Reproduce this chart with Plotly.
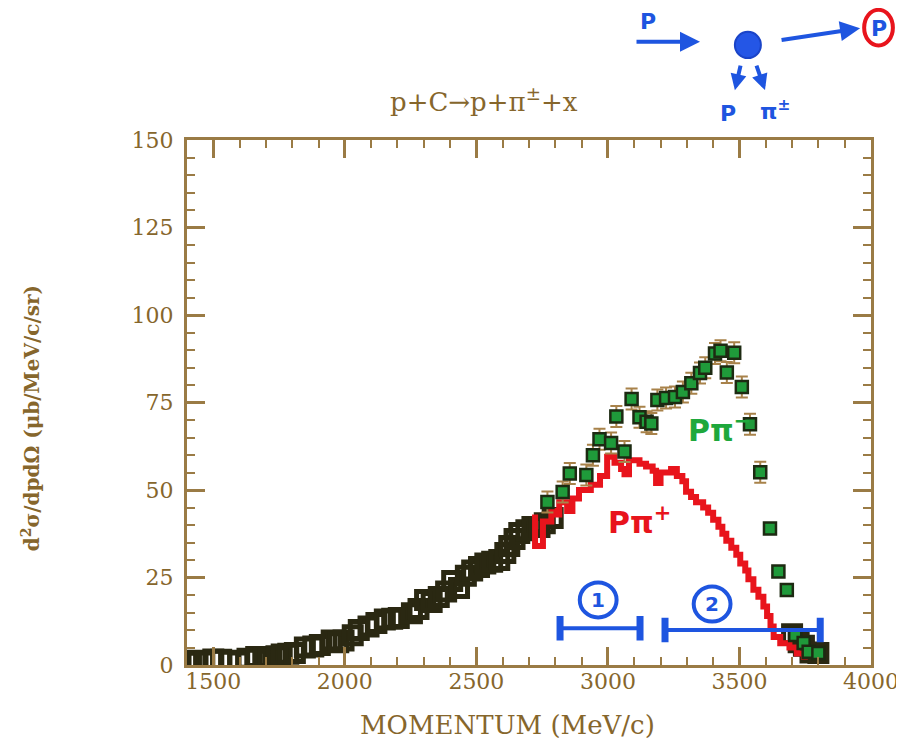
import plotly.graph_objects as go

# ---------------- data ----------------
# combined (black open boxes) data, momentum MeV/c vs cross section
black_x = [1415, 1440, 1465, 1500, 1530, 1560, 1595, 1630, 1663, 1690, 1710, 1740, 1760, 1785,
           1810, 1848, 1880, 1905, 1950, 1975, 1995, 2030, 2053, 2090, 2120, 2152, 2180, 2205,
           2255, 2280, 2305, 2330, 2357, 2385, 2408, 2434, 2460, 2484, 2510, 2534, 2560, 2587,
           2610, 2625, 2645, 2663, 2690, 2713, 2740, 2760, 2790, 3700, 3725, 3745, 3770, 3800]
black_y = [0.9, 1.2, 1.0, 1.6, 1.5, 1.2, 1.0, 1.8, 2.3, 2.0, 1.5, 2.5, 3.0, 3.2,
           3.4, 5.0, 5.3, 5.7, 7.0, 6.5, 7.0, 8.5, 10.0, 11.0, 12.0, 13.0, 13.2, 13.4,
           14.8, 16.0, 18.6, 18.0, 19.4, 21.0, 24.0, 22.0, 25.5, 27.0, 28.0, 29.0, 29.5, 30.0,
           32.0, 34.0, 36.0, 37.7, 38.5, 39.4, 39.4, 40.5, 42.0, 8.8, 6.5, 5.5, 3.6, 3.4]

# p pi- (green points with error bars)
pim_x = [2770, 2828, 2855, 2918, 2943, 2968, 3012, 3032, 3063, 3090, 3120, 3147, 3165,
         3188, 3221, 3255, 3285, 3317, 3350, 3370, 3407, 3428, 3452, 3480, 3509, 3540,
         3579, 3616, 3648, 3680, 3712, 3744, 3763, 3800]
pim_y = [46.6, 49.4, 54.7, 54.3, 59.9, 64.5, 63.4, 71.0, 61.0, 76.0, 70.8, 69.5, 69.0,
         75.7, 76.3, 76.6, 78.0, 80.5, 83.4, 84.9, 89.0, 89.8, 83.6, 89.2, 79.4, 68.8,
         55.1, 39.0, 26.7, 21.4, 8.6, 6.3, 3.8, 3.4]
pim_err = [3.0, 3.0, 3.0, 3.0, 3.0, 3.0, 3.0, 3.0, 3.0, 3.0, 3.0, 3.0, 3.0,
           3.0, 3.0, 3.0, 3.0, 3.0, 3.0, 3.0, 3.0, 3.0, 3.0, 3.0, 3.0, 3.0,
           3.0, 0, 0, 0, 0, 0, 0, 0]

# p pi+ (red histogram, step edges and levels)
pip_x = [2723, 2723, 2753, 2785, 2800, 2815, 2845, 2865, 2890, 2935, 2970, 2997, 3025,
         3050, 3063, 3080, 3120, 3145, 3170, 3183, 3200, 3240, 3262, 3283, 3297, 3316,
         3335, 3362, 3381, 3400, 3420, 3435, 3450, 3469, 3488, 3503, 3522, 3534, 3553,
         3572, 3591, 3605, 3618, 3630, 3655, 3690, 3718, 3745, 3760]
pip_y = [43.0, 34.0, 41.0, 44.0, 43.0, 46.5, 44.0, 47.6, 50.0, 51.5, 54.0, 59.5, 57.8,
         56.0, 54.5, 58.5, 57.5, 56.7, 55.5, 52.0, 55.0, 56.0, 54.0, 52.5, 49.5, 48.0,
         46.5, 45.0, 43.5, 41.5, 39.5, 37.5, 35.5, 33.5, 31.5, 29.0, 27.0, 24.5, 21.5,
         19.5, 16.7, 14.0, 11.0, 8.0, 6.2, 5.0, 3.3, 2.4, 2.4]

x_ticks = [1500, 2000, 2500, 3000, 3500, 4000]
y_ticks = [0, 25, 50, 75, 100, 125, 150]

# hand-drawn range bars (momentum windows)
range1 = [2818, 3122]
range2 = [3217, 3807]

# ---------------- style ----------------
TAN = "#9a7b45"
TXT = "#86662c"
BLUE = "#1e55e0"
RED = "#e8141c"
GREEN = "#1ea83c"
FONT = "DejaVu Serif"
HAND = "DejaVu Sans"

fig = go.Figure()

fig.add_trace(go.Scatter(
    x=black_x, y=black_y, mode="markers",
    marker=dict(symbol="square-open", size=17, color="#2a2812", line=dict(width=5, color="#2a2812")),
    hoverinfo="x+y"))

fig.add_trace(go.Scatter(
    x=pip_x, y=pip_y, mode="lines", line=dict(color=RED, width=6, shape="hv"),
    hoverinfo="x+y"))

fig.add_trace(go.Scatter(
    x=pim_x, y=pim_y, mode="markers",
    error_y=dict(type="data", array=pim_err, color="#a8824a", thickness=2, width=6),
    marker=dict(symbol="square", size=12, color="#1f9a3a", line=dict(width=2.5, color="#1d2a12")),
    hoverinfo="x+y"))

# blue range bars with end caps
for (x0, x1), yb in [(range1, 10.5), (range2, 10.0)]:
    fig.add_shape(type="line", x0=x0, x1=x1, y0=yb, y1=yb, xref="x", yref="y",
                  line=dict(color=BLUE, width=4))
    for xc in (x0, x1):
        fig.add_shape(type="line", x0=xc, x1=xc, y0=yb - 3.5, y1=yb + 3.5, xref="x", yref="y",
                      line=dict(color=BLUE, width=7))


def ann(x, y, text, size, color, family=HAND, **kw):
    fig.add_annotation(x=x, y=y, xref="paper", yref="paper", text=text, showarrow=False,
                       xanchor="center", yanchor="middle",
                       font=dict(family=family, size=size, color=color), **kw)


# circled numbers
for cx, cy, lab in [(2963, 18.6, "1"), (3396, 17.4, "2")]:
    fig.add_shape(type="circle", x0=cx - 70, x1=cx + 70, y0=cy - 5, y1=cy + 5, xref="x", yref="y",
                  line=dict(color=BLUE, width=4))
    fig.add_annotation(x=cx, y=cy, xref="x", yref="y", text="<b>" + lab + "</b>", showarrow=False,
                       xanchor="center", yanchor="middle",
                       font=dict(family=HAND, size=20, color=BLUE))

# hand-written labels
ann(0.779, 0.451, "<b>Pπ<sup>−</sup></b>", 30, GREEN)
ann(0.662, 0.276, "<b>Pπ<sup>+</sup></b>", 30, RED)

# title and axis titles
ann(0.434, 1.076, "p+C→p+π<sup>±</sup>+x", 26, TXT, FONT)
ann(0.469, -0.114, "MOMENTUM (MeV/c)", 26, TXT, FONT)
ann(-0.228, 0.47, "<b>d<sup>2</sup>σ/dpdΩ (μb/MeV/c/sr)</b>", 20, TXT, FONT, textangle=-90)

# top hand drawing (reaction diagram)
ann(0.674, 1.225, "<b>P</b>", 22, BLUE)
fig.add_annotation(x=0.750, y=1.187, xref="paper", yref="paper", text="", showarrow=True,
                   ax=-65, ay=0, arrowhead=2, arrowsize=1, arrowwidth=4, arrowcolor=BLUE)
fig.add_shape(type="circle", x0=0.801, x1=0.839, y0=1.156, y1=1.206, xref="paper", yref="paper",
              fillcolor="#2456e6", line=dict(color="#1a44c8", width=2))
fig.add_annotation(x=0.984, y=1.213, xref="paper", yref="paper", text="", showarrow=True,
                   ax=-80, ay=12, arrowhead=2, arrowsize=1, arrowwidth=4, arrowcolor=BLUE)
fig.add_shape(type="circle", x0=0.990, x1=1.032, y0=1.180, y1=1.248, xref="paper", yref="paper",
              line=dict(color=RED, width=4))
ann(1.011, 1.213, "<b>P</b>", 22, BLUE)
fig.add_annotation(x=0.801, y=1.095, xref="paper", yref="paper", text="", showarrow=True,
                   ax=6, ay=-26, arrowhead=2, arrowsize=0.8, arrowwidth=4, arrowcolor=BLUE)
fig.add_annotation(x=0.845, y=1.095, xref="paper", yref="paper", text="", showarrow=True,
                   ax=-9, ay=-26, arrowhead=2, arrowsize=0.8, arrowwidth=4, arrowcolor=BLUE)
ann(0.791, 1.050, "<b>P</b>", 22, BLUE)
ann(0.860, 1.058, "<b>π<sup>±</sup></b>", 22, BLUE)

axis_common = dict(
    showline=True, linecolor=TAN, linewidth=3, mirror="ticks",
    ticks="inside", tickcolor=TAN, tickwidth=2.5, ticklen=18,
    showgrid=False, zeroline=False, ticklabeloverflow="allow", automargin=False,
    tickfont=dict(family=FONT, size=22, color=TXT),
)

# page has an 8px body margin: figure is sized to fit inside the window
fig.update_layout(
    width=892, height=735,
    margin=dict(l=179, r=29, t=132, b=78),
    paper_bgcolor="white", plot_bgcolor="white",
    showlegend=False,
    xaxis=dict(range=[1400, 4000], tickmode="array", tickvals=x_ticks,
               ticktext=[str(v) for v in x_ticks],
               minor=dict(dtick=100, tick0=1400, ticks="inside", ticklen=8, tickcolor=TAN, tickwidth=2),
               ticklabelstandoff=-5, **axis_common),
    yaxis=dict(range=[0, 150], tickmode="array", tickvals=y_ticks,
               ticktext=[str(v) for v in y_ticks],
               minor=dict(dtick=5, tick0=0, ticks="inside", ticklen=8, tickcolor=TAN, tickwidth=2),
               ticklabelstandoff=6, **axis_common),
)

fig.write_html("out.html")
